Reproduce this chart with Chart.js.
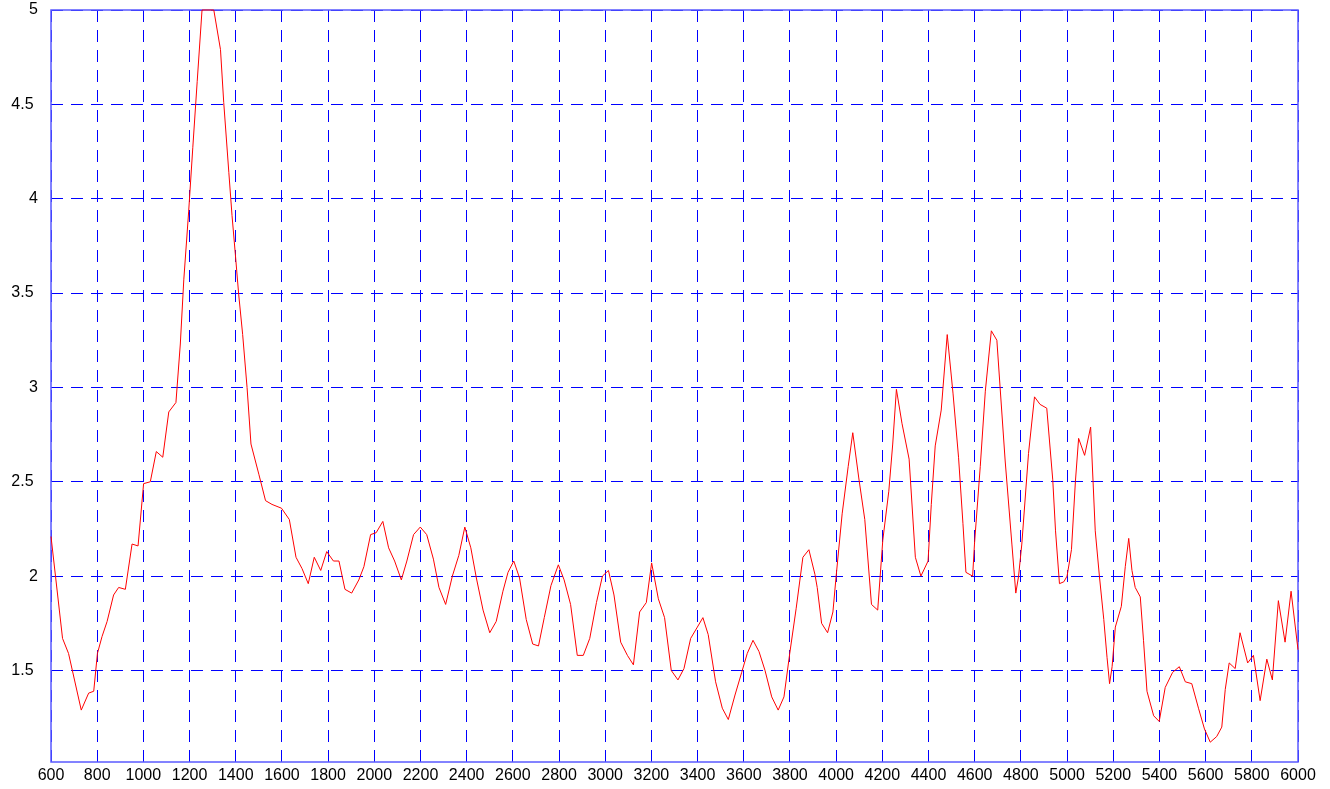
<!DOCTYPE html>
<html>
<head>
<meta charset="utf-8">
<title>Chart</title>
<script src="https://cdn.jsdelivr.net/npm/chart.js@4.4.0/dist/chart.umd.min.js"></script>
<style>
    body { margin: 0; background: #fff; }
    #wrap { width: 1330px; height: 789px; }
</style>
</head>
<body>
<div id="wrap"><canvas id="chart" width="1330" height="789"></canvas></div>
<script>
// x positions of the samples
const xValues = [
    600, 650, 676, 731, 763, 785, 801, 821, 843, 871, 893, 922, 951, 977,
    1001, 1030, 1056, 1084, 1110, 1141, 1160, 1175, 1196, 1214, 1233, 1254, 1280, 1305,
    1334, 1348, 1370, 1384, 1398, 1413, 1430, 1449, 1466, 1500, 1529, 1557, 1598, 1632,
    1661, 1687, 1714, 1740, 1768, 1794, 1823, 1847, 1873, 1902, 1933, 1955, 1984,
    2008, 2037, 2062, 2088, 2117, 2141, 2170, 2199, 2227, 2256, 2280, 2309, 2338, 2366,
    2392, 2418, 2442, 2471, 2500, 2528, 2557, 2579, 2604, 2629, 2658, 2686, 2711, 2736,
    2765, 2797, 2822, 2850, 2879, 2905, 2933, 2962, 2988,
    3014, 3038, 3067, 3096, 3122, 3149, 3178, 3201, 3230, 3257, 3286, 3315, 3341, 3370,
    3399, 3423, 3446, 3478, 3507, 3533, 3562, 3591, 3615, 3640, 3666, 3692, 3721, 3749,
    3774, 3799, 3827, 3856, 3882, 3908, 3918, 3937, 3963, 3986,
    4000, 4026, 4052, 4072, 4098, 4124, 4153, 4180, 4202, 4228, 4245, 4261, 4285, 4316,
    4343, 4367, 4398, 4412, 4429, 4455, 4481, 4506, 4530, 4549, 4562, 4591, 4599, 4624,
    4646, 4672, 4696, 4710, 4732, 4761, 4778, 4790, 4804, 4833, 4859, 4883, 4912, 4938,
    4950, 4967, 4986,
    5000, 5019, 5036, 5050, 5076, 5102, 5122, 5140, 5159, 5173, 5184, 5195, 5209, 5235,
    5252, 5267, 5281, 5295, 5317, 5331, 5346, 5375, 5399, 5425, 5457, 5486, 5512, 5540,
    5569, 5595, 5620, 5648, 5670, 5685, 5702, 5728, 5749, 5782, 5807, 5836, 5865, 5889,
    5915, 5944, 5970, 6000
];

const yValues = [
    2.21, 1.67, 1.59, 1.29, 1.38, 1.39, 1.59, 1.68, 1.76, 1.90, 1.94, 1.93, 2.17, 2.16,
    2.49, 2.50, 2.66, 2.63, 2.87, 2.92, 3.23, 3.57, 3.93, 4.27, 4.62, 5.00, 5.00, 5.00,
    4.79, 4.51, 4.14, 3.91, 3.71, 3.49, 3.28, 3.00, 2.70, 2.54, 2.40, 2.38, 2.36, 2.30,
    2.10, 2.04, 1.96, 2.10, 2.03, 2.13, 2.08, 2.08, 1.93, 1.91, 1.98, 2.05, 2.22,
    2.23, 2.29, 2.15, 2.08, 1.98, 2.08, 2.22, 2.26, 2.22, 2.09, 1.94, 1.85, 2.00, 2.11,
    2.26, 2.15, 1.99, 1.82, 1.70, 1.76, 1.92, 2.02, 2.08, 1.99, 1.77, 1.64, 1.63, 1.78,
    1.95, 2.06, 1.98, 1.85, 1.58, 1.58, 1.67, 1.86, 2.00,
    2.03, 1.90, 1.65, 1.58, 1.53, 1.81, 1.86, 2.07, 1.88, 1.78, 1.50, 1.45, 1.51, 1.67,
    1.73, 1.78, 1.69, 1.44, 1.30, 1.24, 1.37, 1.49, 1.59, 1.66, 1.60, 1.50, 1.36, 1.29,
    1.36, 1.59, 1.83, 2.10, 2.14, 2.01, 1.94, 1.75, 1.70, 1.81,
    2.00, 2.33, 2.58, 2.76, 2.52, 2.30, 1.85, 1.82, 2.19, 2.45, 2.70, 2.99, 2.81, 2.62,
    2.10, 2.00, 2.08, 2.38, 2.69, 2.88, 3.28, 2.97, 2.63, 2.28, 2.02, 2.00, 2.17, 2.58,
    2.98, 3.30, 3.25, 3.00, 2.61, 2.17, 1.91, 2.00, 2.17, 2.65, 2.95, 2.91, 2.89, 2.51,
    2.24, 1.96, 1.97,
    2.00, 2.14, 2.50, 2.73, 2.64, 2.79, 2.24, 2.00, 1.77, 1.57, 1.43, 1.52, 1.73, 1.84,
    2.05, 2.20, 2.03, 1.94, 1.89, 1.66, 1.39, 1.26, 1.23, 1.41, 1.49, 1.52, 1.44, 1.43,
    1.30, 1.19, 1.12, 1.15, 1.20, 1.40, 1.54, 1.51, 1.70, 1.54, 1.58, 1.34, 1.56, 1.45,
    1.87, 1.65, 1.92, 1.61
];

const xTickStep = 200;
const yTickValues = [1.5, 2, 2.5, 3, 3.5, 4, 4.5, 5];

const frameColor = '#5a5aff';
const gridColor = '#0000ff';
const tickFont = { family: 'Liberation Sans', size: 16 };

// Top and right edges of the plot frame are not drawn by the scales
const framePlugin = {
    id: 'frame',
    beforeDatasetsDraw(chart) {
        const { ctx, chartArea: a } = chart;
        ctx.save();
        ctx.strokeStyle = frameColor;
        ctx.lineWidth = 1.5;
        ctx.strokeRect(a.left, a.top, a.right - a.left, a.bottom - a.top);
        ctx.restore();
    }
};

const points = xValues.map((x, i) => ({ x: x, y: yValues[i] }));

new Chart(document.getElementById('chart'), {
    type: 'line',
    data: {
        datasets: [{
            data: points,
            borderColor: '#ff0000',
            borderWidth: 1,
            pointRadius: 0,
            tension: 0,
            fill: false,
            clip: 2
        }]
    },
    options: {
        responsive: false,
        animation: false,
        devicePixelRatio: 1,
        layout: { padding: { top: 10, right: 32, left: 0, bottom: 0 } },
        plugins: {
            legend: { display: false },
            tooltip: { enabled: false },
            title: { display: false }
        },
        scales: {
            x: {
                type: 'linear',
                min: 600,
                max: 6000,
                afterFit: (scale) => {
                    scale.height = 27;
                    scale.paddingLeft = 0;
                    scale.paddingRight = 0;
                },
                ticks: {
                    stepSize: xTickStep,
                    color: '#000',
                    font: tickFont,
                    padding: 4,
                    maxRotation: 0,
                    autoSkip: false,
                    callback: (v) => String(v)
                },
                grid: { color: gridColor, lineWidth: 1, drawTicks: false },
                border: { display: false, dash: [12, 8] }
            },
            y: {
                type: 'linear',
                min: 1.015,
                max: 5,
                afterFit: (scale) => {
                    scale.width = 51;
                    scale.paddingTop = 0;
                    scale.paddingBottom = 0;
                },
                afterBuildTicks: (scale) => {
                    scale.ticks = yTickValues.map(v => ({ value: v }));
                },
                ticks: {
                    color: '#000',
                    font: tickFont,
                    padding: 13,
                    // half values sit a little further left than whole ones
                    callback: (v) => Number.isInteger(v) ? String(v) : String(v) + ' '
                },
                grid: { color: gridColor, lineWidth: 1, drawTicks: false },
                border: { display: false, dash: [12, 8] }
            }
        }
    },
    plugins: [framePlugin]
});
</script>
</body>
</html>
